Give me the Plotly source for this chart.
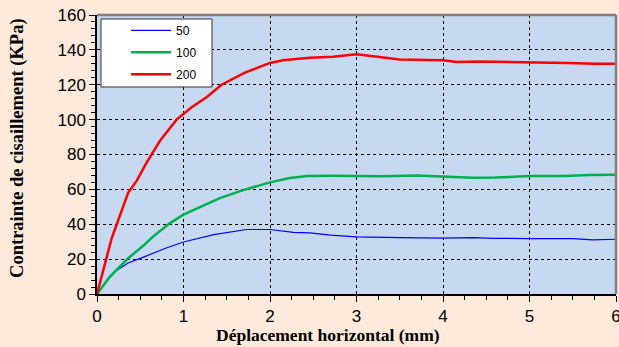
import plotly.graph_objects as go

# Series data (displacement mm, shear stress kPa)
x_50 = [0, 0.12, 0.2, 0.36, 0.53, 0.8, 1.0, 1.35, 1.73, 2.0, 2.27, 2.46, 2.7, 3.0, 3.5, 4.0, 4.35, 4.6, 5.0, 5.5, 5.73, 6.0]
y_50 = [0, 8, 12.6, 17.8, 21, 26.4, 29.8, 34, 37, 37, 35.3, 35, 33.8, 32.8, 32.3, 32, 32.3, 31.9, 31.8, 31.7, 31, 31.4]

x_100 = [0, 0.15, 0.36, 0.53, 0.65, 0.84, 1.0, 1.19, 1.42, 1.69, 2.0, 2.23, 2.43, 2.7, 3.0, 3.3, 3.7, 4.0, 4.35, 4.6, 5.0, 5.4, 5.7, 6.0]
y_100 = [0, 10, 20.5, 27.5, 33, 40.5, 45.5, 50, 55, 59.6, 64, 66.5, 67.7, 67.8, 67.8, 67.5, 68, 67.5, 66.7, 66.8, 67.6, 67.6, 68.3, 68.4]

x_200 = [0, 0.17, 0.36, 0.46, 0.57, 0.73, 0.92, 1.09, 1.27, 1.44, 1.71, 1.88, 2.0, 2.15, 2.35, 2.46, 2.73, 3.0, 3.24, 3.5, 4.0, 4.16, 4.42, 5.0, 5.43, 5.78, 6.0]
y_200 = [0, 32, 58, 65, 75, 88, 100, 107, 113, 120, 127, 130, 132.5, 134, 135, 135.5, 136, 137.5, 136, 134.5, 134, 133, 133.3, 133, 132.5, 132, 132]

x_ticks = [0, 1, 2, 3, 4, 5, 6]
y_ticks = [0, 20, 40, 60, 80, 100, 120, 140, 160]

fig = go.Figure()
fig.add_trace(go.Scatter(x=x_50, y=y_50, mode="lines", name="50", legendgroup="a",
                         line=dict(color="#0000FF", width=1.2)))
fig.add_trace(go.Scatter(x=x_100, y=y_100, mode="lines", name="100", legendgroup="b",
                         line=dict(color="#00B050", width=2.5)))
fig.add_trace(go.Scatter(x=x_200, y=y_200, mode="lines", name="200", legendgroup="c",
                         line=dict(color="#FF0000", width=2.5)))

axis_common = dict(
    showgrid=True, gridcolor="black", griddash="dot", gridwidth=1,
    showline=True, linecolor="black", linewidth=1.5,
    ticks="outside", ticklen=6, tickcolor="black", tickwidth=1,
    tickfont=dict(family="Liberation Sans, Arial", size=17, color="black"),
    zeroline=False, automargin=False, ticklabeloverflow="allow",
)

fig.update_xaxes(range=[0, 6], tickvals=x_ticks,
                 minor=dict(dtick=0.25, ticks="outside", ticklen=4, tickcolor="black", showgrid=False),
                 **axis_common)
fig.update_yaxes(range=[0, 160], tickvals=y_ticks,
                 minor=dict(dtick=4, ticks="outside", ticklen=4, tickcolor="black", showgrid=False),
                 **axis_common)

# axis titles as annotations for precise placement
fig.add_annotation(text="<b>Déplacement horizontal (mm)</b>", xref="paper", yref="paper",
                   x=0.445, y=0, yshift=-41, xanchor="center", yanchor="middle",
                   showarrow=False, font=dict(family="Liberation Serif", size=17.5, color="black"))
fig.add_annotation(text="<b>Contrainte de cisaillement (KPa)</b>", xref="paper", yref="paper",
                   x=0, y=0.52, xshift=-79, xanchor="center", yanchor="middle", textangle=-90,
                   showarrow=False, font=dict(family="Liberation Serif", size=18.5, color="black"))

# gray frame on top and right
fig.add_shape(type="line", xref="paper", yref="paper", x0=0, x1=1, y0=1, y1=1,
              line=dict(color="#808080", width=2.5))
fig.add_shape(type="line", xref="paper", yref="paper", x0=1, x1=1, y0=0, y1=1,
              line=dict(color="#808080", width=2.5))

# legend box
fig.add_shape(type="rect", xref="paper", yref="paper", x0=0.0077, x1=0.2216, y0=0.742, y1=0.9857,
              fillcolor="white", line=dict(color="#333333", width=1), layer="above")

fig.update_layout(
    width=619, height=347,
    margin=dict(l=97, r=3, t=15, b=53),
    paper_bgcolor="#FDEADA",
    plot_bgcolor="#C6D9F1",
    showlegend=True,
    legend=dict(x=0.056, y=0.997, xanchor="left", yanchor="top",
                bgcolor="rgba(0,0,0,0)", borderwidth=0,
                font=dict(family="Liberation Sans, Arial", size=12, color="black"),
                itemwidth=40, tracegroupgap=3),
)

fig.write_html("out.html", config={"displayModeBar": False},
               post_script="document.body.style.margin='0';document.body.style.overflow='hidden';document.body.style.background='#FDEADA';")
